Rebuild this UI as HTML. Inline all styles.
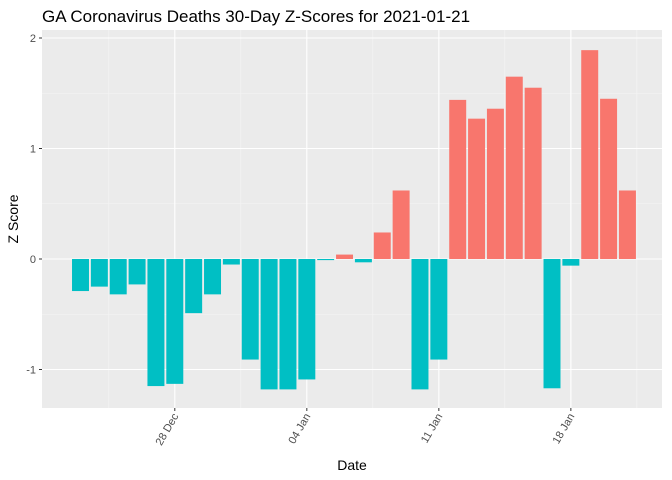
<!DOCTYPE html>
<html><head><meta charset="utf-8">
<style>body{margin:0;background:#fff;}svg{display:block;font-family:"Liberation Sans",sans-serif;}</style>
</head><body>
<svg id="chart" width="672" height="480" xmlns="http://www.w3.org/2000/svg"></svg>
<script>
const dates = ["2020-12-23","2020-12-24","2020-12-25","2020-12-26","2020-12-27","2020-12-28","2020-12-29","2020-12-30","2020-12-31","2021-01-01","2021-01-02","2021-01-03","2021-01-04","2021-01-05","2021-01-06","2021-01-07","2021-01-08","2021-01-09","2021-01-10","2021-01-11","2021-01-12","2021-01-13","2021-01-14","2021-01-15","2021-01-16","2021-01-17","2021-01-18","2021-01-19","2021-01-20","2021-01-21"];
const zScores = [-0.29,-0.25,-0.32,-0.23,-1.15,-1.13,-0.49,-0.32,-0.05,-0.91,-1.18,-1.18,-1.09,-0.01,0.04,-0.03,0.24,0.62,-1.18,-0.91,1.44,1.27,1.36,1.65,1.55,-1.17,-0.06,1.89,1.45,0.62];
const yTicks = [-1,0,1,2];
const xTickLabels = ["28 Dec","04 Jan","11 Jan","18 Jan"];
const xTickIdx = [5,12,19,26];

const NS="http://www.w3.org/2000/svg";
const svg=document.getElementById('chart');
function mk(t,a,p){const e=document.createElementNS(NS,t);for(const k in a)e.setAttribute(k,a[k]);(p||svg).appendChild(e);return e;}
const L=42,R=662,T=30,B=408;
const x0=80.5,dx=18.86;
const xs=i=>x0+i*dx;
const ys=v=>259-v*110.5;

const panel=mk('rect',{x:L,y:T,width:R-L,height:B-T,fill:'#EBEBEB'});


// minor grid
for(let k=-1;k<yTicks.length;k++){const v=(k<0?yTicks[0]-0.5:yTicks[k]+0.5);const y=ys(v);if(y>T&&y<B)mk('line',{x1:L,x2:R,y1:y,y2:y,stroke:'#F5F5F5','stroke-width':0.6});}
for(let j=-1;j<xTickIdx.length;j++){const i=(j<0?xTickIdx[0]-3.5:xTickIdx[j]+3.5);const x=xs(i);if(x>L&&x<R)mk('line',{x1:x,x2:x,y1:T,y2:B,stroke:'#F5F5F5','stroke-width':0.6});}
// major grid
yTicks.forEach(v=>{const y=ys(v);mk('line',{x1:L,x2:R,y1:y,y2:y,stroke:'#fff','stroke-width':1.1});
 const t=mk('text',{x:L-6,y:y+4,'text-anchor':'end','font-size':11,fill:'#4D4D4D'});t.textContent=v;
 
 mk('line',{x1:L-3,x2:L,y1:y,y2:y,stroke:'#333'});});
xTickIdx.forEach((i,j)=>{const x=xs(i);mk('line',{x1:x,x2:x,y1:T,y2:B,stroke:'#fff','stroke-width':1.1});
 mk('line',{x1:x,x2:x,y1:B,y2:B+3,stroke:'#333'});
 const t=mk('text',{x:x+4,y:B+8,'text-anchor':'end','font-size':11,fill:'#4D4D4D',transform:`rotate(-60 ${x+4} ${B+8})`});t.textContent=xTickLabels[j];
 });
// bars
const bw=dx*0.9;
zScores.forEach((v,i)=>{const y1=ys(Math.max(v,0)),y2=ys(Math.min(v,0));
 const r=mk('rect',{x:xs(i)-bw/2,y:y1,width:bw,height:Math.max(y2-y1,0.5),fill:v>0?'#F8766D':'#00BFC4'});
 });
let t=mk('text',{x:42,y:22,'font-size':17,fill:'#000'});t.textContent='GA Coronavirus Deaths 30-Day Z-Scores for 2021-01-21';

t=mk('text',{x:352,y:470,'text-anchor':'middle','font-size':14,fill:'#000'});t.textContent='Date';

t=mk('text',{x:18,y:219,'text-anchor':'middle','font-size':14,fill:'#000',transform:'rotate(-90 18 219)'});t.textContent='Z Score';

</script>
</body></html>
